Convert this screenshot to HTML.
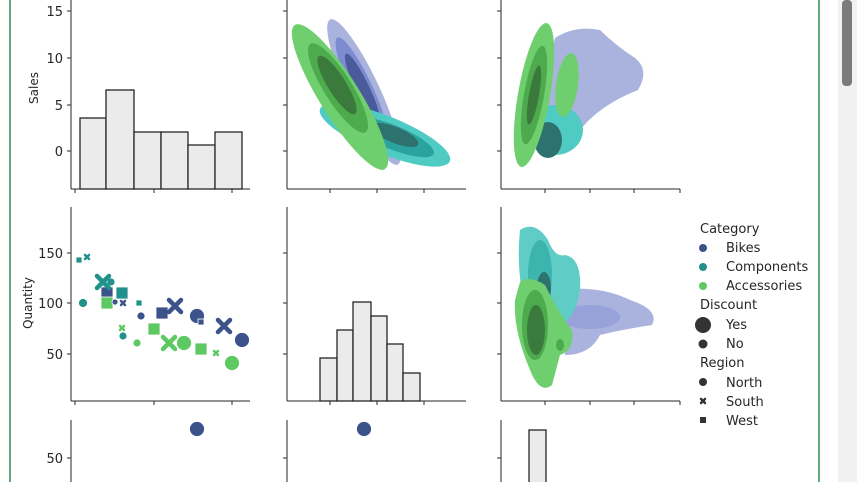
<!DOCTYPE html>
<html><head><style>
body{margin:0;width:857px;height:482px;overflow:hidden;background:#fff;font-family:"Liberation Sans","DejaVu Sans",sans-serif}
</style></head><body>
<svg width="857" height="482" xmlns="http://www.w3.org/2000/svg" font-family="DejaVu Sans, Liberation Sans, sans-serif" font-size="12" fill="#262626">
<rect x="838" y="0" width="19" height="482" fill="#f1f1f1"/>
<rect x="842" y="0" width="10" height="86" rx="4" fill="#7b7b7b"/>
<line x1="10" y1="0" x2="10" y2="482" stroke="#2e8b57" stroke-width="1.5"/>
<line x1="819" y1="0" x2="819" y2="482" stroke="#2e8b57" stroke-width="1.5"/>
<g stroke="#262626" stroke-width="1">
<line x1="71" y1="0" x2="71" y2="189"/><line x1="71" y1="189" x2="250" y2="189"/>
<line x1="287" y1="0" x2="287" y2="189"/><line x1="287" y1="189" x2="466" y2="189"/>
<line x1="501" y1="0" x2="501" y2="189"/><line x1="501" y1="189" x2="680" y2="189"/>
<line x1="71" y1="207" x2="71" y2="401"/><line x1="71" y1="401" x2="250" y2="401"/>
<line x1="287" y1="207" x2="287" y2="401"/><line x1="287" y1="401" x2="466" y2="401"/>
<line x1="501" y1="207" x2="501" y2="401"/><line x1="501" y1="401" x2="680" y2="401"/>
<line x1="71" y1="420" x2="71" y2="482"/><line x1="287" y1="420" x2="287" y2="482"/><line x1="501" y1="420" x2="501" y2="482"/>
<path d="M67 11H71M67 58H71M67 105H71M67 151H71M283 11H287M283 58H287M283 105H287M283 151H287M497 11H501M497 58H501M497 105H501M497 151H501"/>
<path d="M67 253H71M67 303H71M67 354H71M283 253H287M283 303H287M283 354H287M497 253H501M497 303H501M497 354H501"/>
<path d="M67 458H71M283 458H287M497 458H501"/>
<path d="M75 189V193M154 189V193M232 189V193M330 189V193M377 189V193M424 189V193M545 189V193M590 189V193M634 189V193M680 189V193"/>
<path d="M75 401V405M154 401V405M232 401V405M330 401V405M377 401V405M424 401V405M545 401V405M590 401V405M634 401V405M680 401V405"/>
</g>
<g text-anchor="end" font-size="13">
<text x="63" y="16">15</text><text x="63" y="63">10</text><text x="63" y="110">5</text><text x="63" y="156">0</text>
<text x="63" y="258">150</text><text x="63" y="308">100</text><text x="63" y="359">50</text><text x="63" y="463">50</text>
</g>
<text transform="translate(38,88) rotate(-90)" font-size="12" text-anchor="middle">Sales</text>
<text transform="translate(32,303) rotate(-90)" font-size="12" text-anchor="middle">Quantity</text>
<g fill="#ebebeb" stroke="#262626" stroke-width="1.3">
<rect x="80" y="118" width="26" height="71"/><rect x="106" y="90" width="28" height="99"/><rect x="134" y="132" width="27" height="57"/><rect x="161" y="132" width="27" height="57"/><rect x="188" y="145" width="27" height="44"/><rect x="215" y="132" width="27" height="57"/>
<rect x="320" y="358" width="17" height="43"/><rect x="337" y="330" width="16" height="71"/><rect x="353" y="302" width="18" height="99"/><rect x="371" y="316" width="16" height="85"/><rect x="387" y="344" width="16" height="57"/><rect x="403" y="373" width="17" height="28"/>
<rect x="529" y="430" width="17" height="60"/>
</g>
<g>
<ellipse cx="364" cy="92" rx="16" ry="80" transform="rotate(-25 364 92)" fill="#aab3dd"/>
<ellipse cx="362" cy="90" rx="11" ry="58" transform="rotate(-25 362 90)" fill="#7d8bd0"/>
<ellipse cx="363" cy="90" rx="7" ry="40" transform="rotate(-25 363 90)" fill="#4a5a9a"/>
<ellipse cx="385" cy="135" rx="70" ry="19" transform="rotate(22 385 135)" fill="#4fcbc4"/>
<ellipse cx="392" cy="137" rx="45" ry="12" transform="rotate(22 392 137)" fill="#2aa39e"/>
<ellipse cx="395" cy="135" rx="25" ry="8" transform="rotate(22 395 135)" fill="#2e7270"/>
<ellipse cx="340" cy="97" rx="20" ry="85" transform="rotate(-32 340 97)" fill="#6fcf6f"/>
<ellipse cx="338" cy="88" rx="14" ry="52" transform="rotate(-32 338 88)" fill="#4daa4d"/>
<ellipse cx="337" cy="85" rx="9" ry="34" transform="rotate(-32 337 85)" fill="#3b7a3d"/>
</g>
<g>
<path d="M555 38 Q575 25 600 30 Q615 45 635 58 Q650 70 638 90 Q600 105 580 130 Q560 150 545 155 L540 100 Z" fill="#aab3dd"/>
<ellipse cx="555" cy="130" rx="28" ry="25" fill="#4fcbc4"/>
<ellipse cx="548" cy="140" rx="14" ry="18" fill="#2e7270"/>
<ellipse cx="567" cy="85" rx="11" ry="32" transform="rotate(8 567 85)" fill="#6fcf6f"/>
<ellipse cx="534" cy="95" rx="16" ry="73" transform="rotate(10 534 95)" fill="#6fcf6f"/>
<ellipse cx="534" cy="95" rx="10" ry="50" transform="rotate(10 534 95)" fill="#4daa4d"/>
<ellipse cx="534" cy="95" rx="5" ry="30" transform="rotate(10 534 95)" fill="#3b7a3d"/>
</g>
<g>
<path d="M560 290 Q600 285 630 300 Q660 310 652 325 Q620 330 600 335 Q590 355 565 355 Z" fill="#aab3dd"/>
<ellipse cx="590" cy="317" rx="30" ry="12" fill="#97a2db"/>
<path d="M520 230 Q535 220 548 240 Q555 258 565 255 Q582 258 580 290 Q575 320 560 325 L530 320 Q515 280 520 230Z" fill="#5fcdc5"/>
<ellipse cx="540" cy="275" rx="12" ry="35" fill="#3bb5ae"/>
<ellipse cx="544" cy="288" rx="7" ry="16" fill="#2e7270"/>
<path d="M520 282 Q530 275 545 285 Q560 315 572 330 Q575 350 560 355 L552 385 Q540 395 530 370 Q513 330 515 300Z" fill="#6fcf6f"/>
<ellipse cx="535" cy="325" rx="13" ry="35" fill="#4daa4d"/>
<ellipse cx="536" cy="330" rx="9" ry="25" fill="#3b7a3d"/>
<ellipse cx="560" cy="345" rx="4" ry="6" fill="#4daa4d"/>
</g>
<g stroke="#fff" stroke-width="0.8">
<rect x="76" y="257" width="6" height="6" fill="#21918c"/>
<circle cx="111" cy="282" r="4" fill="#21918c"/>
<circle cx="83" cy="303" r="4.5" fill="#21918c"/>
<rect x="101" y="287" width="12" height="12" fill="#3b528b"/>
<rect x="116" y="287" width="12" height="12" fill="#21918c"/>
<rect x="101" y="297" width="12" height="12" fill="#5ec962"/>
<circle cx="115" cy="302" r="3" fill="#3b528b"/>
<rect x="136" y="300" width="6" height="6" fill="#21918c"/>
<circle cx="141" cy="316" r="4" fill="#3b528b"/>
<rect x="156" y="307" width="12" height="12" fill="#3b528b"/>
<circle cx="197" cy="316" r="7.5" fill="#3b528b"/>
<rect x="198" y="319" width="6" height="6" fill="#3b528b"/>
<circle cx="242" cy="340" r="7.5" fill="#3b528b"/>
<circle cx="123" cy="336" r="4" fill="#21918c"/>
<circle cx="137" cy="343" r="4" fill="#5ec962"/>
<rect x="148" y="323" width="12" height="12" fill="#5ec962"/>
<circle cx="184" cy="343" r="7.5" fill="#5ec962"/>
<rect x="195" y="343" width="12" height="12" fill="#5ec962"/>
<circle cx="232" cy="363" r="7.5" fill="#5ec962"/>
<circle cx="197" cy="429" r="7.5" fill="#3b528b"/>
<circle cx="364" cy="429" r="7.5" fill="#3b528b"/>
</g>
<g stroke-linecap="round">
<path d="M85 255l4 4M89 255l-4 4" stroke="#21918c" stroke-width="2.5"/>
<path d="M97 276l12 12M109 276l-12 12" stroke="#21918c" stroke-width="4.5"/>
<path d="M121 301l4 4M125 301l-4 4" stroke="#3b528b" stroke-width="2.5"/>
<path d="M169 300l12 12M181 300l-12 12" stroke="#3b528b" stroke-width="4.5"/>
<path d="M218 320l12 12M230 320l-12 12" stroke="#3b528b" stroke-width="4.5"/>
<path d="M120 326l4 4M124 326l-4 4" stroke="#5ec962" stroke-width="2.5"/>
<path d="M163 337l12 12M175 337l-12 12" stroke="#5ec962" stroke-width="4.5"/>
<path d="M214 351l4 4M218 351l-4 4" stroke="#5ec962" stroke-width="2.5"/>
<path d="M701 399l4 4M705 399l-4 4" stroke="#333" stroke-width="2.5"/>
</g>
<g font-size="13">
<text x="700" y="233">Category</text>
<circle cx="703" cy="248" r="4" fill="#3b528b"/><text x="726" y="252">Bikes</text>
<circle cx="703" cy="267" r="4" fill="#21918c"/><text x="726" y="271">Components</text>
<circle cx="703" cy="286" r="4" fill="#5ec962"/><text x="726" y="290">Accessories</text>
<text x="700" y="309">Discount</text>
<circle cx="703" cy="325" r="8" fill="#333"/><text x="726" y="329">Yes</text>
<circle cx="703" cy="344" r="4.5" fill="#333"/><text x="726" y="348">No</text>
<text x="700" y="367">Region</text>
<circle cx="703" cy="382" r="4" fill="#333"/><text x="726" y="387">North</text>
<text x="726" y="406">South</text>
<rect x="700" y="417" width="6" height="6" fill="#333"/><text x="726" y="425">West</text>
</g>
</svg>
</body></html>
